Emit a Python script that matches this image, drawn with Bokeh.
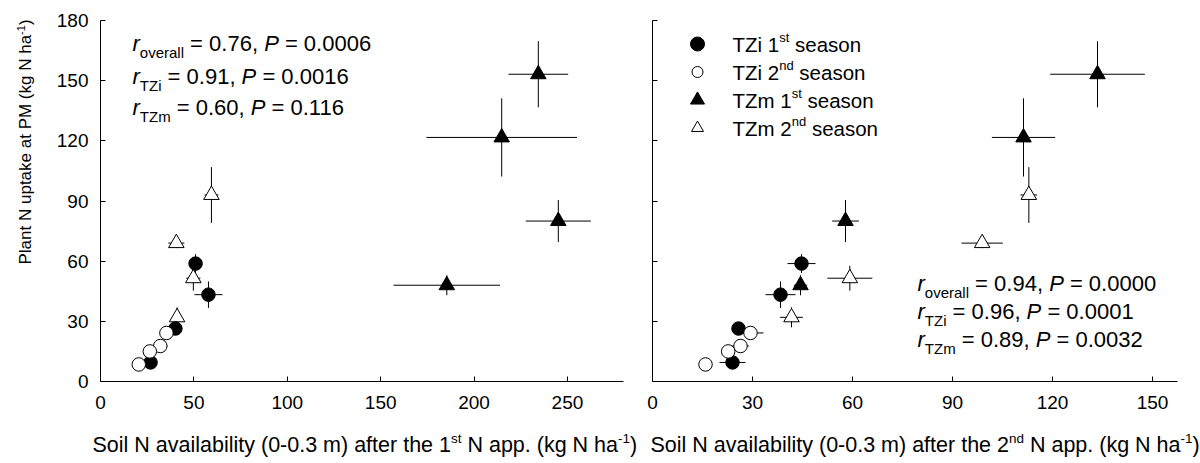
import math
from bokeh.plotting import figure
from bokeh.models import Range1d, FixedTicker, Label, CustomJSTickFormatter
from bokeh.layouts import row, column
from bokeh.embed import file_html
from bokeh.resources import INLINE

# ---------------- data ----------------
# Plant N uptake at PM (kg N ha-1), shared by both panels
tzi1_y = [58.8, 43.3, 26.4, 9.5]
tzi2_y = [24.2, 17.7, 15.0, 8.5]
tzm1_y = [153.2, 121.7, 80.0, 48.0]
tzm2_y = [93.0, 69.0, 51.5, 32.0]
tzi1_yerr = [4.7, 6.6, 2.0, 1.8]
tzi2_yerr = [2.0, 2.0, 1.5, 1.5]
tzm1_yerr = [16.5, 19.5, 10.5, 5.0]
tzm2_yerr = [13.9, 2.5, 6.2, 5.0]

# Soil N availability after the 1st N application
tzi1_x1 = [50.9, 57.8, 40.1, 26.8]
tzi2_x1 = [35.3, 32.0, 26.4, 20.5]
tzm1_x1 = [234.4, 214.8, 245.1, 185.4]
tzm2_x1 = [59.4, 40.6, 49.7, 41.0]
tzi1_xerr1 = [1.5, 7.5, 2.0, 2.0]
tzi2_xerr1 = [2.0, 3.9, 2.0, 1.5]
tzm1_xerr1 = [16.0, 40.3, 17.4, 28.5]
tzm2_xerr1 = [3.7, 4.3, 3.8, 2.0]

# Soil N availability after the 2nd N application
tzi1_x2 = [44.7, 38.4, 25.8, 24.0]
tzi2_x2 = [29.4, 26.4, 22.7, 15.9]
tzm1_x2 = [133.5, 111.3, 57.9, 44.4]
tzm2_x2 = [112.9, 98.9, 59.2, 41.7]
tzi1_xerr2 = [4.2, 4.5, 2.0, 3.9]
tzi2_xerr2 = [3.9, 2.5, 2.0, 1.0]
tzm1_xerr2 = [14.2, 9.5, 4.0, 2.0]
tzm2_xerr2 = [2.5, 6.2, 6.75, 3.4]

x1_ticks = [0, 50, 100, 150, 200, 250]
x2_ticks = [0, 30, 60, 90, 120, 150]
y_ticks = [0, 30, 60, 90, 120, 150, 180]
x1_max, x2_max, y_max = 280, 157.5, 180

legend_labels = [("TZi 1", "st", " season"), ("TZi 2", "nd", " season"),
                 ("TZm 1", "st", " season"), ("TZm 2", "nd", " season")]
stats1 = [("overall", "0.76", "0.0006"), ("TZi", "0.91", "0.0016"), ("TZm", "0.60", "0.116")]
stats2 = [("overall", "0.94", "0.0000"), ("TZi", "0.96", "0.0001"), ("TZm", "0.89", "0.0032")]

# ---------------- layout constants (page pixels) ----------------
FONT = "Liberation Sans"
PW, PH = 1200, 463
YW = 40            # strip for the y-axis title
PLOT_H = 430       # height of the two panels
TOP = 20
FRAME_B = 381
W1, LB1, RB1 = 600, 60, 17      # left panel: page x 40..640, frame 100..623
W2, LB2, RB2 = 560, 12, 23      # right panel: page x 640..1200, frame 652..1177
BASE_FIX = 0.27                 # label anchor correction (fraction of font size)
INFO1 = (YW + LB1, TOP, W1 - LB1 - RB1, FRAME_B - TOP, 0, x1_max, 0, y_max, YW, 0)
INFO2 = (YW + W1 + LB2, TOP, W2 - LB2 - RB2, FRAME_B - TOP, 0, x2_max, 0, y_max, YW + W1, 0)
INFO_X = (0, 0, 1, 1, 0, 1, 0, 1, YW, PLOT_H)
INFO_Y = (0, 0, 1, 1, 0, 1, 0, 1, 0, 0)

AW = {' ': 278, '(': 333, ')': 333, ',': 278, '-': 333, '.': 278, '=': 584,
      'M': 833, 'N': 722, 'P': 667, 'S': 667, 'T': 611, 'Z': 611,
      'a': 556, 'b': 556, 'c': 500, 'd': 556, 'e': 556, 'f': 278, 'g': 556, 'h': 556,
      'i': 222, 'k': 500, 'l': 222, 'm': 833, 'n': 556, 'o': 556, 'p': 556, 'r': 333,
      's': 500, 't': 278, 'u': 556, 'v': 500, 'y': 500}


def tw(s, size):
    return sum(AW.get(c, 556) for c in s) * size / 1000.0


def px2data(info, px, py):
    L, T, W, Hh, x0, x1, y0, y1 = info[:8]
    return x0 + (px - L) / W * (x1 - x0), y0 + (T + Hh - py) / Hh * (y1 - y0)


def rich(p, info, x, y, pieces, angle=0.0):
    """pieces: (text, size, italic, shift_up_px); x,y = page pixels of baseline start."""
    ox, oy = info[8], info[9]
    cur = x if angle == 0 else y
    for text, size, italic, shift in pieces:
        lead = len(text) - len(text.lstrip(' '))
        body = text.strip(' ')
        start = cur + tw(' ' * lead, size) * (1 if angle == 0 else -1)
        fix = BASE_FIX * size
        if angle == 0:
            px, py = start, y - shift - fix
        else:
            px, py = x - shift - fix, start
        if body:
            p.add_layout(Label(x=px - ox, y=py - oy, x_units="canvas", y_units="canvas",
                               text=body, text_font=FONT,
                               text_font_size=f"{size}px",
                               text_font_style="italic" if italic else "normal",
                               text_align="left", text_baseline="alphabetic",
                               angle=angle, text_color="black"))
        w = tw(text, size)
        cur = cur + w if angle == 0 else cur - w


def make_fig(width, lb, rb, xmax, xticks):
    p = figure(width=width, height=PLOT_H, x_range=Range1d(0, xmax), y_range=Range1d(0, y_max),
               output_backend="svg", toolbar_location=None,
               min_border_left=lb, min_border_right=rb, min_border_top=TOP,
               min_border_bottom=PLOT_H - FRAME_B)
    p.xgrid.visible = False
    p.ygrid.visible = False
    p.outline_line_color = None
    p.background_fill_color = "white"
    p.border_fill_color = "white"
    p.xaxis.ticker = FixedTicker(ticks=xticks)
    p.yaxis.ticker = FixedTicker(ticks=y_ticks)
    for ax in (p.xaxis[0], p.yaxis[0]):
        ax.axis_line_color = "black"
        ax.axis_line_width = 1
        ax.major_tick_in = 5
        ax.major_tick_out = 0
        ax.minor_tick_in = 0
        ax.minor_tick_out = 0
        ax.major_tick_line_color = "black"
        ax.major_label_text_font = FONT
        ax.major_label_text_font_size = "19px"
        ax.major_label_text_color = "black"
    p.xaxis.major_label_standoff = 14
    p.yaxis.major_label_standoff = 12
    return p


def blank_fig(width, height):
    p = figure(width=width, height=height, x_range=Range1d(0, 1), y_range=Range1d(0, 1),
               output_backend="svg", toolbar_location=None,
               x_axis_location=None, y_axis_location=None, min_border=0)
    p.xgrid.visible = False
    p.ygrid.visible = False
    p.outline_line_color = None
    p.background_fill_color = "white"
    p.border_fill_color = "white"
    return p


def draw_series(p, xs, ys, xerr, yerr, marker, fill, size):
    p.segment(x0=[a - e for a, e in zip(xs, xerr)], y0=ys,
              x1=[a + e for a, e in zip(xs, xerr)], y1=ys, line_color="black", line_width=1)
    p.segment(x0=xs, y0=[b - e for b, e in zip(ys, yerr)],
              x1=xs, y1=[b + e for b, e in zip(ys, yerr)], line_color="black", line_width=1)


def draw_markers(p, xs, ys, marker, fill, size):
    p.scatter(xs, ys, marker=marker, size=size, fill_color=fill, line_color="black", line_width=1)


# ---------------- left panel ----------------
p1 = make_fig(W1, LB1, RB1, x1_max, x1_ticks)
series1 = [(tzm1_x1, tzm1_y, tzm1_xerr1, tzm1_yerr, "triangle", "black", 15.5),
           (tzm2_x1, tzm2_y, tzm2_xerr1, tzm2_yerr, "triangle", "white", 15.5),
           (tzi1_x1, tzi1_y, tzi1_xerr1, tzi1_yerr, "circle", "black", 13.5),
           (tzi2_x1, tzi2_y, tzi2_xerr1, tzi2_yerr, "circle", "white", 13.5)]
for s in series1:
    draw_series(p1, *s)
for xs, ys, xe, ye, m, f, sz in series1:
    draw_markers(p1, xs, ys, m, f, sz)

# ---------------- right panel ----------------
p2 = make_fig(W2, LB2, RB2, x2_max, x2_ticks)
p2.yaxis.formatter = CustomJSTickFormatter(code="return ''")
p2.yaxis.major_label_standoff = 0
series2 = [(tzm1_x2, tzm1_y, tzm1_xerr2, tzm1_yerr, "triangle", "black", 15.5),
           (tzm2_x2, tzm2_y, tzm2_xerr2, tzm2_yerr, "triangle", "white", 15.5),
           (tzi1_x2, tzi1_y, tzi1_xerr2, tzi1_yerr, "circle", "black", 13.5),
           (tzi2_x2, tzi2_y, tzi2_xerr2, tzi2_yerr, "circle", "white", 13.5)]
for s in series2:
    draw_series(p2, *s)
for xs, ys, xe, ye, m, f, sz in series2:
    draw_markers(p2, xs, ys, m, f, sz)

# ---------------- legend (right panel) ----------------
leg_keys = [("circle", "black", 14), ("circle", "white", 11),
            ("triangle", "black", 14), ("triangle", "white", 12)]
leg_base = [50, 78, 106, 134]
for (m, f, sz), b, (a, sup, c) in zip(leg_keys, leg_base, legend_labels):
    kx, ky = px2data(INFO2, 697, b - 6.5)
    p2.scatter([kx], [ky], marker=m, size=sz, fill_color=f, line_color="black", line_width=1)
    rich(p2, INFO2, 732, b, [(a, 20.5, False, 0), (sup, 13, False, 9), (c, 20.5, False, 0)])

# ---------------- statistics text ----------------
def stats(p, info, x0, bases, rows):
    for b, (sub, r, pv) in zip(bases, rows):
        rich(p, info, x0, b, [("r", 22, True, 0), (sub, 15, False, -7),
                              (f" = {r}, ", 22, False, 0), ("P", 22, True, 0),
                              (f" = {pv}", 22, False, 0)])

stats(p1, INFO1, 132, [49, 82, 113], stats1)
stats(p2, INFO2, 917, [289, 317, 345], stats2)

# ---------------- axis titles (own strips) ----------------
xfig = blank_fig(PW - YW, PH - PLOT_H)
yfig = blank_fig(YW, PH)
XS = 21.5
rich(xfig, INFO_X, 92, 450, [("Soil N availability (0-0.3 m) after the 1", XS, False, 0),
                             ("st", 13.5, False, 8.5),
                             (" N app. (kg N ha", XS, False, 0),
                             ("-1", 13.5, False, 8.5), (")", XS, False, 0)])
rich(xfig, INFO_X, 650, 450, [("Soil N availability (0-0.3 m) after the 2", XS, False, 0),
                              ("nd", 13.5, False, 8.5),
                              (" N app. (kg N ha", XS, False, 0),
                              ("-1", 13.5, False, 8.5), (")", XS, False, 0)])
YS = 17
rich(yfig, INFO_Y, 30, 264, [("Plant N uptake at PM (kg N ha", YS, False, 0),
                             ("-1", 11, False, 7), (")", YS, False, 0)], angle=math.pi / 2)

layout = row(yfig, column(row(p1, p2, spacing=0), xfig, spacing=0), spacing=0)
open("out.html", "w").write(file_html(layout, INLINE))
